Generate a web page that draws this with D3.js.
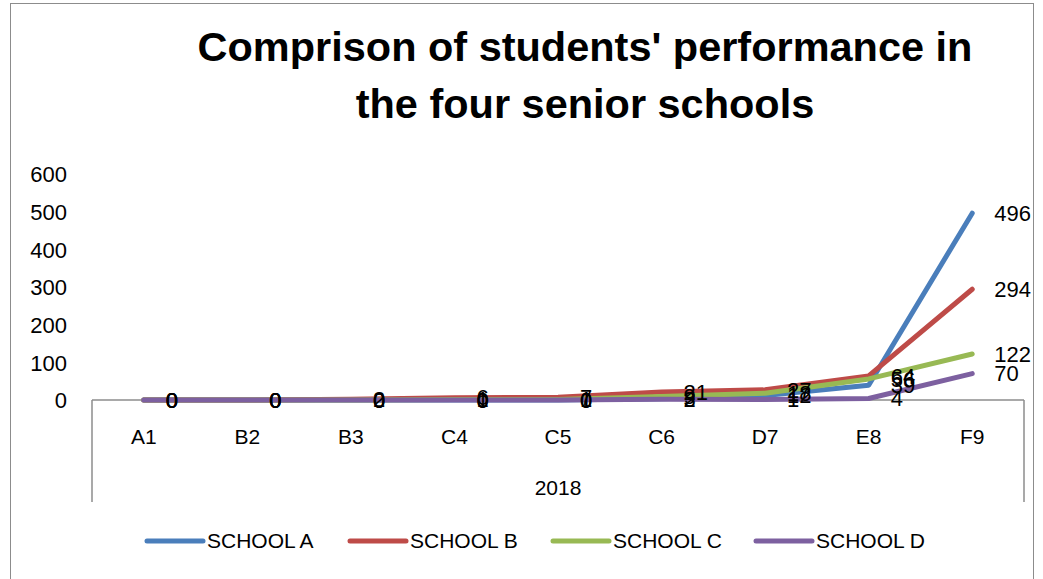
<!DOCTYPE html>
<html>
<head>
<meta charset="utf-8">
<script src="https://cdn.jsdelivr.net/npm/d3@7"></script>
<style>
  body { margin: 0; background: #fff; }
  svg { display: block; }
</style>
</head>
<body>
<div id="vis"></div>
<script>
// data
var grades = ["A1", "B2", "B3", "C4", "C5", "C6", "D7", "E8", "F9"];
var year = "2018";
var schoolA = [0, 0, 0, 0, 0, 3, 12, 39, 496];
var schoolB = [0, 0, 2, 6, 7, 21, 27, 64, 294];
var schoolC = [0, 0, 0, 1, 1, 9, 18, 56, 122];
var schoolD = [0, 0, 0, 0, 0, 2, 1, 4, 70];
var seriesNames = ["SCHOOL A", "SCHOOL B", "SCHOOL C", "SCHOOL D"];
var yTicks = [0, 100, 200, 300, 400, 500, 600];

var colors = ["#4A7EBB", "#BE4B48", "#98B954", "#7D60A0"];
var allSeries = [schoolA, schoolB, schoolC, schoolD];

var w = 1043, h = 579;
var font = "'Liberation Sans', Arial, sans-serif";

var svg = d3.select("#vis").append("svg")
    .attr("width", w)
    .attr("height", h);

// chart border
svg.append("rect")
    .attr("x", 10.5).attr("y", 3.5)
    .attr("width", 1023).attr("height", 620)
    .attr("fill", "none")
    .attr("stroke", "#8c8c8c");

// title
var titleLines = ["Comprison of students' performance in", "the four senior schools"];
var title = svg.selectAll(".title")
    .data(titleLines)
    .enter()
    .append("text")
    .attr("class", "title")
    .attr("x", 585)
    .attr("y", function(d, i) { return 61 + i * 57; })
    .attr("text-anchor", "middle")
    .attr("font-family", font)
    .attr("font-weight", "bold")
    .attr("font-size", "36px")
    .attr("fill", "#000")
    .text(function(d) { return d; });
// squeeze to the width of the original
var firstLen = title.node().getComputedTextLength();
var fs = 36 * 775 / firstLen;
title.attr("font-size", fs + "px");

var xScale = d3.scaleBand()
    .domain(grades)
    .range([92, 1024]);

var yScale = d3.scaleLinear()
    .domain([0, 600])
    .range([400, 174]);

function px(d, i) { return xScale(grades[i]) + xScale.bandwidth() / 2; }

// y axis labels (no line)
var yAxis = d3.axisLeft(yScale).tickValues(yTicks).tickSize(0).tickPadding(0);
var yg = svg.append("g")
    .attr("transform", "translate(67,0)")
    .call(yAxis);
yg.select(".domain").remove();
yg.selectAll("text")
    .attr("font-family", font)
    .attr("font-size", "22px")
    .attr("fill", "#000")
    .attr("dy", "0.35em");

// x axis line and box edges
svg.append("line")
    .attr("x1", 92).attr("x2", 1024)
    .attr("y1", yScale(0)).attr("y2", yScale(0))
    .attr("stroke", "#8c8c8c").attr("stroke-width", 1.5);
svg.selectAll(".edge")
    .data([92, 1024])
    .enter()
    .append("line")
    .attr("class", "edge")
    .attr("x1", function(d) { return d; })
    .attr("x2", function(d) { return d; })
    .attr("y1", yScale(0))
    .attr("y2", 502)
    .attr("stroke", "#8c8c8c").attr("stroke-width", 1.5);

// category labels
svg.selectAll(".cat")
    .data(grades)
    .enter()
    .append("text")
    .attr("class", "cat")
    .attr("x", function(d) { return xScale(d) + xScale.bandwidth() / 2; })
    .attr("y", 444)
    .attr("text-anchor", "middle")
    .attr("font-family", font)
    .attr("font-size", "21px")
    .text(function(d) { return d; });

svg.append("text")
    .attr("x", 558)
    .attr("y", 495)
    .attr("text-anchor", "middle")
    .attr("font-family", font)
    .attr("font-size", "21px")
    .text(year);

// lines
var line = d3.line()
    .x(px)
    .y(function(d) { return yScale(d); });

svg.selectAll(".series")
    .data(allSeries)
    .enter()
    .append("path")
    .attr("class", "series")
    .attr("d", line)
    .attr("fill", "none")
    .attr("stroke", function(d, i) { return colors[i]; })
    .attr("stroke-width", 5)
    .attr("stroke-linecap", "round")
    .attr("stroke-linejoin", "round");

// data labels
allSeries.forEach(function(s) {
    svg.append("g").selectAll("text")
        .data(s)
        .enter()
        .append("text")
        .attr("x", function(d, i) { return px(d, i) + 22; })
        .attr("y", function(d) { return yScale(d); })
        .attr("dy", "0.35em")
        .attr("font-family", font)
        .attr("font-size", "22px")
        .attr("fill", "#000")
        .text(function(d) { return d; });
});

// legend
var legend = svg.selectAll(".legend")
    .data(seriesNames)
    .enter()
    .append("g")
    .attr("class", "legend")
    .attr("transform", function(d, i) { return "translate(" + (147 + i * 203) + ",541)"; });
legend.append("line")
    .attr("x1", 0).attr("x2", 56)
    .attr("y1", 0).attr("y2", 0)
    .attr("stroke", function(d, i) { return colors[i]; })
    .attr("stroke-width", 5)
    .attr("stroke-linecap", "round");
legend.append("text")
    .attr("x", 60)
    .attr("y", 0)
    .attr("dy", "0.35em")
    .attr("font-family", font)
    .attr("font-size", "21px")
    .text(function(d) { return d; });
</script>
</body>
</html>
